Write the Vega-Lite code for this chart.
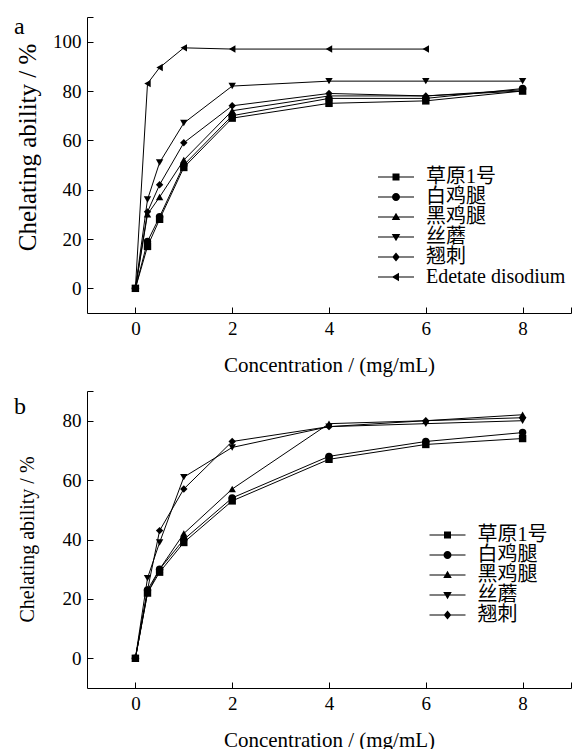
{
  "$schema": "https://vega.github.io/schema/vega-lite/v6.json",
  "padding": {"left": 14, "top": 14, "right": 0, "bottom": 0},
  "background": "white",
  "config": {
    "view": {"stroke": null},
    "font": "Liberation Serif, Noto Sans CJK SC",
    "axis": {"grid": false, "domainColor": "black", "tickColor": "black", "labelColor": "black", "titleColor": "black", "labelFont": "Liberation Serif", "titleFont": "Liberation Serif", "titleFontWeight": "normal", "labelFontSize": 19, "titleFontSize": 20, "tickSize": -6, "labelPadding": 12},
    "title": {"font": "Liberation Serif", "fontWeight": "normal", "fontSize": 24, "color": "black"},
    "legend": {"title": null, "orient": "none", "padding": 0, "labelFont": "Liberation Serif, Noto Sans CJK SC", "labelFontSize": 20, "labelColor": "black", "symbolSize": 100, "labelOffset": 20}
  },
  "datasets": {
    "pts": [
      {"panel": "a", "series": "草原1号", "x": 0, "y": 0},
      {"panel": "a", "series": "草原1号", "x": 0.25, "y": 17},
      {"panel": "a", "series": "草原1号", "x": 0.5, "y": 28},
      {"panel": "a", "series": "草原1号", "x": 1, "y": 49},
      {"panel": "a", "series": "草原1号", "x": 2, "y": 69},
      {"panel": "a", "series": "草原1号", "x": 4, "y": 75},
      {"panel": "a", "series": "草原1号", "x": 6, "y": 76},
      {"panel": "a", "series": "草原1号", "x": 8, "y": 80},
      {"panel": "a", "series": "白鸡腿", "x": 0, "y": 0},
      {"panel": "a", "series": "白鸡腿", "x": 0.25, "y": 19},
      {"panel": "a", "series": "白鸡腿", "x": 0.5, "y": 29},
      {"panel": "a", "series": "白鸡腿", "x": 1, "y": 50},
      {"panel": "a", "series": "白鸡腿", "x": 2, "y": 70},
      {"panel": "a", "series": "白鸡腿", "x": 4, "y": 77},
      {"panel": "a", "series": "白鸡腿", "x": 6, "y": 77},
      {"panel": "a", "series": "白鸡腿", "x": 8, "y": 81},
      {"panel": "a", "series": "黑鸡腿", "x": 0, "y": 0},
      {"panel": "a", "series": "黑鸡腿", "x": 0.25, "y": 30},
      {"panel": "a", "series": "黑鸡腿", "x": 0.5, "y": 37},
      {"panel": "a", "series": "黑鸡腿", "x": 1, "y": 52},
      {"panel": "a", "series": "黑鸡腿", "x": 2, "y": 72},
      {"panel": "a", "series": "黑鸡腿", "x": 4, "y": 78},
      {"panel": "a", "series": "黑鸡腿", "x": 6, "y": 78},
      {"panel": "a", "series": "黑鸡腿", "x": 8, "y": 80},
      {"panel": "a", "series": "丝蘑", "x": 0, "y": 0},
      {"panel": "a", "series": "丝蘑", "x": 0.25, "y": 36},
      {"panel": "a", "series": "丝蘑", "x": 0.5, "y": 51},
      {"panel": "a", "series": "丝蘑", "x": 1, "y": 67},
      {"panel": "a", "series": "丝蘑", "x": 2, "y": 82},
      {"panel": "a", "series": "丝蘑", "x": 4, "y": 84},
      {"panel": "a", "series": "丝蘑", "x": 6, "y": 84},
      {"panel": "a", "series": "丝蘑", "x": 8, "y": 84},
      {"panel": "a", "series": "翘刺", "x": 0, "y": 0},
      {"panel": "a", "series": "翘刺", "x": 0.25, "y": 31},
      {"panel": "a", "series": "翘刺", "x": 0.5, "y": 42},
      {"panel": "a", "series": "翘刺", "x": 1, "y": 59},
      {"panel": "a", "series": "翘刺", "x": 2, "y": 74},
      {"panel": "a", "series": "翘刺", "x": 4, "y": 79},
      {"panel": "a", "series": "翘刺", "x": 6, "y": 78},
      {"panel": "a", "series": "翘刺", "x": 8, "y": 80.5},
      {"panel": "a", "series": "Edetate disodium", "x": 0, "y": 0},
      {"panel": "a", "series": "Edetate disodium", "x": 0.25, "y": 83},
      {"panel": "a", "series": "Edetate disodium", "x": 0.5, "y": 89.5},
      {"panel": "a", "series": "Edetate disodium", "x": 1, "y": 97.5},
      {"panel": "a", "series": "Edetate disodium", "x": 2, "y": 97},
      {"panel": "a", "series": "Edetate disodium", "x": 4, "y": 97},
      {"panel": "a", "series": "Edetate disodium", "x": 6, "y": 97},
      {"panel": "b", "series": "草原1号", "x": 0, "y": 0},
      {"panel": "b", "series": "草原1号", "x": 0.25, "y": 22},
      {"panel": "b", "series": "草原1号", "x": 0.5, "y": 29},
      {"panel": "b", "series": "草原1号", "x": 1, "y": 39},
      {"panel": "b", "series": "草原1号", "x": 2, "y": 53},
      {"panel": "b", "series": "草原1号", "x": 4, "y": 67},
      {"panel": "b", "series": "草原1号", "x": 6, "y": 72},
      {"panel": "b", "series": "草原1号", "x": 8, "y": 74},
      {"panel": "b", "series": "白鸡腿", "x": 0, "y": 0},
      {"panel": "b", "series": "白鸡腿", "x": 0.25, "y": 23},
      {"panel": "b", "series": "白鸡腿", "x": 0.5, "y": 30},
      {"panel": "b", "series": "白鸡腿", "x": 1, "y": 40},
      {"panel": "b", "series": "白鸡腿", "x": 2, "y": 54},
      {"panel": "b", "series": "白鸡腿", "x": 4, "y": 68},
      {"panel": "b", "series": "白鸡腿", "x": 6, "y": 73},
      {"panel": "b", "series": "白鸡腿", "x": 8, "y": 76},
      {"panel": "b", "series": "黑鸡腿", "x": 0, "y": 0},
      {"panel": "b", "series": "黑鸡腿", "x": 0.25, "y": 22},
      {"panel": "b", "series": "黑鸡腿", "x": 0.5, "y": 30},
      {"panel": "b", "series": "黑鸡腿", "x": 1, "y": 42},
      {"panel": "b", "series": "黑鸡腿", "x": 2, "y": 57},
      {"panel": "b", "series": "黑鸡腿", "x": 4, "y": 79},
      {"panel": "b", "series": "黑鸡腿", "x": 6, "y": 80},
      {"panel": "b", "series": "黑鸡腿", "x": 8, "y": 82},
      {"panel": "b", "series": "丝蘑", "x": 0, "y": 0},
      {"panel": "b", "series": "丝蘑", "x": 0.25, "y": 27},
      {"panel": "b", "series": "丝蘑", "x": 0.5, "y": 39},
      {"panel": "b", "series": "丝蘑", "x": 1, "y": 61},
      {"panel": "b", "series": "丝蘑", "x": 2, "y": 71},
      {"panel": "b", "series": "丝蘑", "x": 4, "y": 78},
      {"panel": "b", "series": "丝蘑", "x": 6, "y": 79},
      {"panel": "b", "series": "丝蘑", "x": 8, "y": 80},
      {"panel": "b", "series": "翘刺", "x": 0, "y": 0},
      {"panel": "b", "series": "翘刺", "x": 0.25, "y": 23},
      {"panel": "b", "series": "翘刺", "x": 0.5, "y": 43},
      {"panel": "b", "series": "翘刺", "x": 1, "y": 57},
      {"panel": "b", "series": "翘刺", "x": 2, "y": 73},
      {"panel": "b", "series": "翘刺", "x": 4, "y": 78},
      {"panel": "b", "series": "翘刺", "x": 6, "y": 80},
      {"panel": "b", "series": "翘刺", "x": 8, "y": 81}
    ]
  },
  "spacing": 15,
  "resolve": {"scale": {"shape": "independent", "x": "independent", "y": "independent"}, "legend": {"shape": "independent"}},
  "vconcat": [
    {
      "width": 484,
      "height": 296,
      "title": {"text": "a", "anchor": "start", "frame": "group", "offset": 0, "dx": -73, "dy": 22},
      "data": {"name": "pts"},
      "transform": [{"filter": "datum.panel === 'a'"}],
      "encoding": {
        "x": {"field": "x", "type": "quantitative", "scale": {"domain": [-1, 9], "nice": false, "zero": false},
          "axis": {"values": [0, 2, 4, 6, 8, 9], "labelExpr": "datum.value === 9 ? '' : datum.label", "title": "Concentration / (mg/mL)", "titleY": 52, "titleBaseline": "middle", "titleFontSize": 21}},
        "y": {"field": "y", "type": "quantitative", "scale": {"domain": [-10, 110], "nice": false, "zero": false},
          "axis": {"values": [0, 20, 40, 60, 80, 100, 110], "labelExpr": "datum.value === 110 ? '' : datum.label", "title": "Chelating ability / %", "titleX": -60, "titleY": 130, "titleBaseline": "middle", "titleAlign": "center", "titleAngle": -90, "titleFontSize": 25}}
      },
      "resolve": {"scale": {"shape": "independent"}, "legend": {"shape": "independent"}},
      "layer": [
        {"mark": {"type": "line", "color": "black", "strokeWidth": 1}, "encoding": {"detail": {"field": "series"}}},
        {"mark": {"type": "point", "filled": true, "color": "black", "size": 55, "opacity": 1},
          "encoding": {"shape": {"field": "series", "type": "nominal",
            "scale": {"domain": ["草原1号", "白鸡腿", "黑鸡腿", "丝蘑", "翘刺", "Edetate disodium"], "range": ["square", "circle", "triangle-up", "triangle-down", "diamond", "triangle-left"]},
            "legend": null}}
        },
        {"transform": [{"filter": "false"}],
          "mark": {"type": "point", "filled": true, "color": "black", "size": 100, "opacity": 1},
          "encoding": {"shape": {"field": "series", "type": "nominal",
            "scale": {"domain": ["草原1号", "白鸡腿", "黑鸡腿", "丝蘑", "翘刺", "Edetate disodium"],
              "range": ["M-3.6,-0.1H3.6V0.1H-3.6ZM-0.7,-0.7H0.7V0.7H-0.7Z", "M-3.6,-0.1H3.6V0.1H-3.6ZM-0.8,0A0.8,0.8,0,1,1,0.8,0A0.8,0.8,0,1,1,-0.8,0Z", "M-3.6,-0.1H3.6V0.1H-3.6ZM0,-0.85L0.85,0.6H-0.85Z", "M-3.6,-0.1H3.6V0.1H-3.6ZM0,0.85L-0.85,-0.6H0.85Z", "M-3.6,-0.1H3.6V0.1H-3.6ZM0,-0.9L0.75,0L0,0.9L-0.75,0Z", "M-3.6,-0.1H3.6V0.1H-3.6ZM-0.85,0L0.6,-0.85V0.85Z"]},
            "legend": {"legendX": 299, "legendY": 150, "rowPadding": 0}}}
        }
      ]
    },
    {
      "width": 484,
      "height": 297,
      "title": {"text": "b", "anchor": "start", "frame": "group", "offset": 0, "dx": -73, "dy": 28},
      "data": {"name": "pts"},
      "transform": [{"filter": "datum.panel === 'b'"}],
      "encoding": {
        "x": {"field": "x", "type": "quantitative", "scale": {"domain": [-1, 9], "nice": false, "zero": false},
          "axis": {"values": [0, 2, 4, 6, 8, 9], "labelExpr": "datum.value === 9 ? '' : datum.label", "title": "Concentration / (mg/mL)", "titleY": 52, "titleBaseline": "middle", "titleFontSize": 21}},
        "y": {"field": "y", "type": "quantitative", "scale": {"domain": [-10, 90], "nice": false, "zero": false},
          "axis": {"values": [0, 20, 40, 60, 80, 90], "labelExpr": "datum.value === 90 ? '' : datum.label", "title": "Chelating ability / %", "titleX": -60, "titleY": 148, "titleBaseline": "middle", "titleAlign": "center", "titleAngle": -90, "titleFontSize": 20}}
      },
      "resolve": {"scale": {"shape": "independent"}, "legend": {"shape": "independent"}},
      "layer": [
        {"mark": {"type": "line", "color": "black", "strokeWidth": 1}, "encoding": {"detail": {"field": "series"}}},
        {"mark": {"type": "point", "filled": true, "color": "black", "size": 55, "opacity": 1},
          "encoding": {"shape": {"field": "series", "type": "nominal",
            "scale": {"domain": ["草原1号", "白鸡腿", "黑鸡腿", "丝蘑", "翘刺"], "range": ["square", "circle", "triangle-up", "triangle-down", "diamond"]},
            "legend": null}}
        },
        {"transform": [{"filter": "false"}],
          "mark": {"type": "point", "filled": true, "color": "black", "size": 100, "opacity": 1},
          "encoding": {"shape": {"field": "series", "type": "nominal",
            "scale": {"domain": ["草原1号", "白鸡腿", "黑鸡腿", "丝蘑", "翘刺"],
              "range": ["M-3.6,-0.1H3.6V0.1H-3.6ZM-0.7,-0.7H0.7V0.7H-0.7Z", "M-3.6,-0.1H3.6V0.1H-3.6ZM-0.8,0A0.8,0.8,0,1,1,0.8,0A0.8,0.8,0,1,1,-0.8,0Z", "M-3.6,-0.1H3.6V0.1H-3.6ZM0,-0.85L0.85,0.6H-0.85Z", "M-3.6,-0.1H3.6V0.1H-3.6ZM0,0.85L-0.85,-0.6H0.85Z", "M-3.6,-0.1H3.6V0.1H-3.6ZM0,-0.9L0.75,0L0,0.9L-0.75,0Z"]},
            "legend": {"legendX": 350.5, "legendY": 134, "rowPadding": 0}}}
        }
      ]
    }
  ]
}
